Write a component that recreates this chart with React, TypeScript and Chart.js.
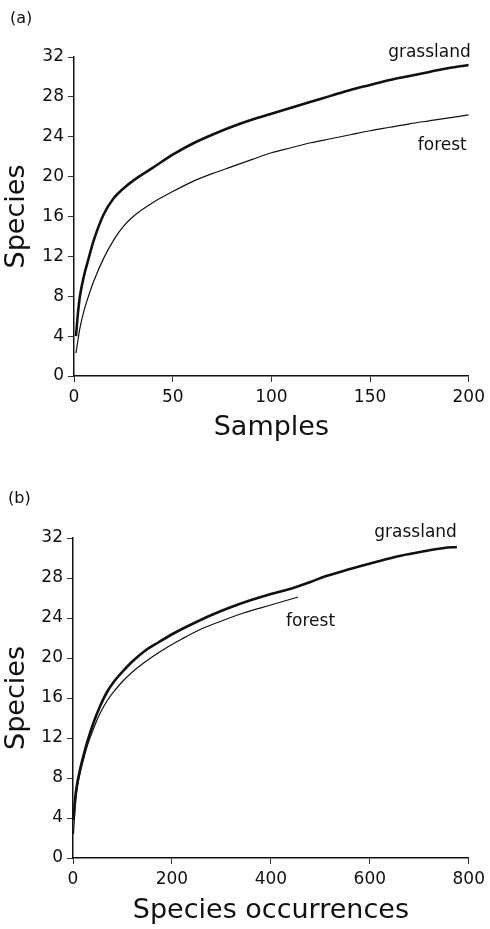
import React, { useEffect, useRef } from 'react';
import { Chart, registerables } from 'chart.js';

Chart.register(...registerables);

// ---------- Panel (a): species vs samples ----------
const samplesA = [1, 2, 3, 5, 7, 10, 15, 20, 25, 30, 40, 50, 60, 70, 80, 90, 100, 110, 120, 130, 140, 150, 160, 170, 180, 190, 200];
const grasslandA = [4.0, 6.3, 8.0, 10.0, 11.5, 13.6, 16.2, 17.8, 18.8, 19.6, 20.9, 22.2, 23.3, 24.2, 25.0, 25.7, 26.3, 26.9, 27.5, 28.1, 28.7, 29.2, 29.7, 30.1, 30.5, 30.9, 31.2];
const forestA = [2.3, 3.6, 4.8, 6.5, 7.8, 9.5, 11.8, 13.6, 15.0, 16.0, 17.4, 18.5, 19.5, 20.3, 21.0, 21.7, 22.4, 22.9, 23.4, 23.8, 24.2, 24.6, 24.95, 25.3, 25.6, 25.9, 26.2];

// ---------- Panel (b): species vs species occurrences ----------
const occGrassB = [1, 4, 8, 14, 22, 30, 42, 54, 70, 87, 105, 121, 145, 174, 205, 241, 280, 320, 360, 400, 445, 480, 512, 560, 612, 660, 712, 750, 776];
const grasslandB = [3.8, 5.8, 7.3, 8.8, 10.4, 11.8, 13.6, 15.1, 16.7, 17.9, 18.9, 19.7, 20.7, 21.6, 22.5, 23.4, 24.3, 25.1, 25.8, 26.4, 27.0, 27.6, 28.2, 28.9, 29.6, 30.2, 30.7, 31.0, 31.1];
const occForestB = [1, 4, 8, 14, 22, 30, 42, 54, 70, 87, 101, 120, 140, 160, 188, 220, 255, 300, 345, 400, 455];
const forestB = [2.4, 4.8, 6.8, 8.4, 10.0, 11.4, 13.0, 14.4, 15.8, 16.9, 17.7, 18.6, 19.4, 20.1, 21.0, 21.9, 22.8, 23.7, 24.5, 25.3, 26.1];

// ---------- Axis ticks / labels ----------
const yTicks = [0, 4, 8, 12, 16, 20, 24, 28, 32];
const xTicksA = [0, 50, 100, 150, 200];
const xTicksB = [0, 200, 400, 600, 800];
const yTitle = 'Species';
const xTitleA = 'Samples';
const xTitleB = 'Species occurrences';
const seriesNames = ['grassland', 'forest'];

const FONT = '"DejaVu Sans", "Liberation Sans", Arial, sans-serif';
const INK = '#111111';

const toXY = (xs: number[], ys: number[]) => xs.map((x, i) => ({ x, y: ys[i] }));

const labelPlugin = {
  id: 'panelLabels',
  afterDraw(chart: any, _args: any, opts: any) {
    const ctx = chart.ctx;
    ctx.save();
    ctx.fillStyle = INK;
    ctx.font = `16px ${FONT}`;
    ctx.textAlign = 'left';
    ctx.textBaseline = 'middle';
    ctx.fillText(opts.panel, opts.panelX, opts.panelY);
    ctx.font = `17px ${FONT}`;
    ctx.textBaseline = 'alphabetic';
    for (const l of opts.seriesLabels) {
      const ds = chart.data.datasets[l.index];
      const last = ds.data[ds.data.length - 1];
      const px = chart.scales.x.getPixelForValue(last.x) + l.dx;
      const py = chart.scales.y.getPixelForValue(last.y) + l.dy;
      ctx.textAlign = l.align;
      ctx.fillText(ds.label, px, py);
    }
    ctx.restore();
  },
};

function makeConfig(p: any): any {
  return {
    type: 'line',
    data: {
      datasets: [
        {
          label: seriesNames[0],
          data: toXY(p.gx, p.gy),
          borderColor: INK,
          borderWidth: 2.6,
          pointRadius: 0,
          cubicInterpolationMode: 'monotone',
          fill: false,
        },
        {
          label: seriesNames[1],
          data: toXY(p.fx, p.fy),
          borderColor: INK,
          borderWidth: 1.2,
          pointRadius: 0,
          cubicInterpolationMode: 'monotone',
          fill: false,
        },
      ],
    },
    options: {
      animation: false,
      responsive: false,
      devicePixelRatio: 1,
      layout: { padding: { left: 0, top: p.padTop, right: p.padRight, bottom: 0 } },
      plugins: {
        legend: { display: false },
        tooltip: { enabled: false },
        panelLabels: {
          panel: p.panel,
          panelX: p.panelX,
          panelY: p.panelY,
          seriesLabels: p.seriesLabels,
        },
      },
      scales: {
        x: {
          type: 'linear',
          min: p.xTicks[0],
          max: p.xTicks[p.xTicks.length - 1],
          afterBuildTicks: (s: any) => {
            s.ticks = p.xTicks.map((v: number) => ({ value: v }));
          },
          afterFit: (s: any) => {
            s.height = p.xHeight;
          },
          grid: { drawOnChartArea: false, drawTicks: true, tickLength: 6, color: '#333', lineWidth: 1 },
          border: { display: true, color: INK, width: 1.5 },
          ticks: {
            autoSkip: false,
            maxRotation: 0,
            padding: 5,
            color: INK,
            font: { family: FONT, size: 17 },
          },
          title: {
            display: true,
            text: p.xTitle,
            color: INK,
            font: { family: FONT, size: 27, lineHeight: 1.2 },
            padding: { top: 0, bottom: p.xTitlePad },
          },
        },
        y: {
          type: 'linear',
          min: 0,
          max: 32,
          afterBuildTicks: (s: any) => {
            s.ticks = yTicks.map((v) => ({ value: v }));
          },
          afterFit: (s: any) => {
            s.width = p.yWidth;
          },
          grid: { drawOnChartArea: false, drawTicks: true, tickLength: 6, color: '#333', lineWidth: 1 },
          border: { display: true, color: INK, width: 1.5 },
          ticks: {
            autoSkip: false,
            padding: 4,
            color: INK,
            font: { family: FONT, size: 17 },
          },
          title: {
            display: true,
            text: yTitle,
            color: INK,
            font: { family: FONT, size: 27, lineHeight: 1.2 },
            padding: { top: 1, bottom: 0 },
          },
        },
      },
    },
    plugins: [labelPlugin],
  };
}

const panelA = {
  panel: '(a)',
  panelX: 10,
  panelY: 19,
  gx: samplesA,
  gy: grasslandA,
  fx: samplesA,
  fy: forestA,
  xTicks: xTicksA,
  xTitle: xTitleA,
  padTop: 57,
  padRight: 16,
  yWidth: 74,
  xHeight: 88,
  xTitlePad: 20,
  seriesLabels: [
    { index: 0, dx: 2, dy: -8, align: 'right' },
    { index: 1, dx: -2, dy: 35, align: 'right' },
  ],
};

const panelB = {
  panel: '(b)',
  panelX: 8,
  panelY: 35,
  gx: occGrassB,
  gy: grasslandB,
  fx: occForestB,
  fy: forestB,
  xTicks: xTicksB,
  xTitle: xTitleB,
  padTop: 74,
  padRight: 18,
  yWidth: 73,
  xHeight: 71,
  xTitlePad: 2,
  seriesLabels: [
    { index: 0, dx: 0, dy: -10, align: 'right' },
    { index: 1, dx: -12, dy: 29, align: 'left' },
  ],
};

function Panel({ cfg, top, height }: { cfg: any; top: number; height: number }) {
  const ref = useRef<HTMLCanvasElement | null>(null);
  useEffect(() => {
    if (!ref.current) return;
    const chart = new Chart(ref.current, makeConfig(cfg));
    return () => chart.destroy();
  }, [cfg]);
  return (
    <canvas
      ref={ref}
      width={490}
      height={height}
      style={{ position: 'absolute', left: 0, top, width: 490, height, display: 'block' }}
    />
  );
}

export default function App() {
  return (
    <div style={{ position: 'absolute', left: 0, top: 0, width: 490, height: 929, background: '#fff', overflow: 'hidden' }}>
      <Panel cfg={panelA} top={0} height={464} />
      <Panel cfg={panelB} top={464} height={465} />
    </div>
  );
}
